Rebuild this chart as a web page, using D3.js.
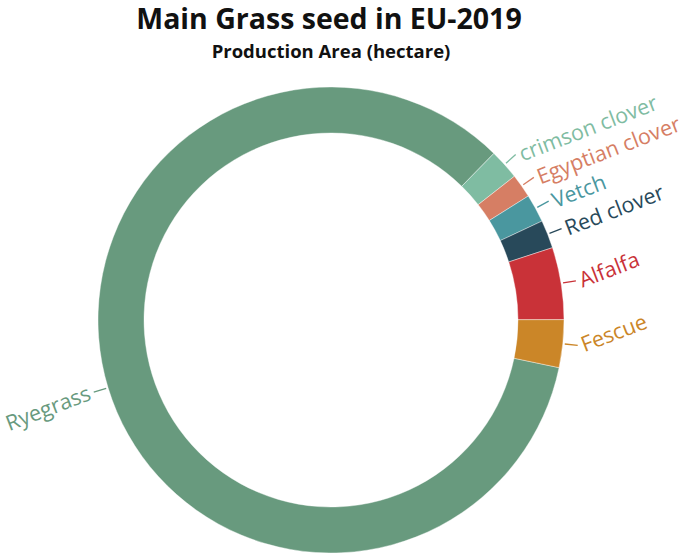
<!DOCTYPE html>
<html><head><meta charset="utf-8">
<script src="https://cdn.jsdelivr.net/npm/d3@7"></script>
<style>body{margin:0;background:#fff}svg{display:block}</style>
</head><body>
<svg id="c" width="685" height="555"></svg>
<script>
const categories = ["Ryegrass","crimson clover","Egyptian clover","Vetch","Red clover","Alfalfa","Fescue"];
const areaHa = [168000, 4200, 3300, 3900, 3900, 10000, 6600];
const colors = ["#689A7E","#7FBCA2","#D67E64","#4A979F","#28495A","#C93238","#CB8628"];
const title = "Main Grass seed in EU-2019";
const subtitle = "Production Area (hectare)";

const data = categories.map((c,i)=>({name:c, value:areaHa[i], color:colors[i]}));
const svg = d3.select("#c");
const font = "'Open Sans', 'Noto Sans', sans-serif";
const cx = 331, cy = 320, R = 233, r = 187;

svg.append("text").attr("x",329).attr("y",29).attr("text-anchor","middle")
  .attr("font-family",font).attr("font-weight","bold").attr("font-size",28.5).attr("fill","#111").text(title);
svg.append("text").attr("x",331).attr("y",58).attr("text-anchor","middle")
  .attr("font-family",font).attr("font-weight","bold").attr("font-size",18.5).attr("fill","#111").text(subtitle);

const deg = Math.PI/180;
const pie = d3.pie().value(d=>d.value).sort(null).startAngle(101.8*deg).endAngle(461.8*deg);
const arcs = pie(data);
const arc = d3.arc().innerRadius(r).outerRadius(R);
const g = svg.append("g").attr("transform",`translate(${cx},${cy})`);
g.selectAll("path").data(arcs).join("path").attr("d",arc).attr("fill",d=>d.data.color)
  .attr("stroke","#fff").attr("stroke-width",0.4);

const rot = -21;
arcs.forEach(a=>{
  const m = (a.startAngle+a.endAngle)/2;
  const sx = Math.sin(m), sy = -Math.cos(m);
  const p1 = [sx*(R+2), sy*(R+2)], p2 = [sx*(R+15), sy*(R+15)];
  g.append("line").attr("x1",p1[0]).attr("y1",p1[1]).attr("x2",p2[0]).attr("y2",p2[1])
    .attr("stroke",a.data.color).attr("stroke-width",1.3);
  const left = sx < 0;
  const tx = p2[0] + (left?-4:4), ty = p2[1];
  g.append("text").attr("transform",`translate(${tx},${ty}) rotate(${rot})`)
    .attr("text-anchor", left?"end":"start").attr("dy","0.35em")
    .attr("font-family",font).attr("font-size",21.5).attr("fill",a.data.color).text(a.data.name);
});
</script>
</body></html>
